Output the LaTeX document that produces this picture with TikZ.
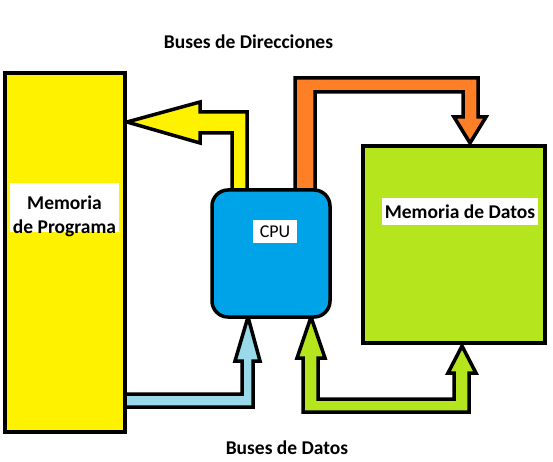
\documentclass[tikz,border=0pt]{standalone}
\usepackage{fontspec}
\setmainfont{Carlito}
\definecolor{pyellow}{HTML}{FFF200}
\definecolor{porange}{HTML}{FF7F27}
\definecolor{pblue}{HTML}{00A2E8}
\definecolor{plblue}{HTML}{99D9EA}
\definecolor{pgreen}{HTML}{B5E61D}
\begin{document}
\begin{tikzpicture}[x=1pt,y=-1pt,
  outl/.style={draw=black,line width=3.5pt,line join=miter,miter limit=20},
  lbl/.style={fill=white,inner sep=0pt,align=center,font=\fontsize{19.5}{24}\selectfont\bfseries},
  title/.style={inner sep=0pt,anchor=base,font=\fontsize{19.5}{22}\selectfont\bfseries}]
\useasboundingbox[fill=white] (0,0) rectangle (553,462);
% block arrows (behind boxes)
\filldraw[outl,fill=pyellow] (232,192) -- (232,133) -- (200,133) -- (200,143) -- (127,122)
  -- (200,102) -- (200,112) -- (247,112) -- (247,192);
\filldraw[outl,fill=porange] (295,192) -- (295,78) -- (478,78) -- (478,117) -- (486,117)
  -- (470,143) -- (454,117) -- (463,117) -- (463,92) -- (315,92) -- (315,192);
\filldraw[outl,fill=plblue] (123,394) -- (242,394) -- (242,361) -- (235,361) -- (248,317)
  -- (260,361) -- (253,361) -- (253,407) -- (123,407);
\filldraw[outl,fill=pgreen] (311,317) -- (325,358) -- (318,358) -- (318,399) -- (454,399)
  -- (454,373) -- (448,373) -- (462,346) -- (476,373) -- (469,373) -- (469,412)
  -- (303,412) -- (303,358) -- (297,358) -- cycle;
% boxes
\node[outl,fill=pyellow,minimum width=120pt,minimum height=359pt,inner sep=0pt] (pm) at (65,252.5) {};
\node[outl,fill=pblue,rounded corners=16pt,minimum width=118pt,minimum height=127pt,inner sep=0pt] (cpu) at (271,253.5) {};
\node[outl,fill=pgreen,minimum width=182pt,minimum height=197pt,inner sep=0pt] (dm) at (454,244.5) {};
% labels
\node[lbl,minimum width=109pt,minimum height=49pt,text depth=0pt] (pml) at (64.5,207.5) {\raisebox{-2pt}{\parbox{109pt}{\centering Memoria\\de Programa}}};
\node[lbl,minimum width=156pt,minimum height=27pt] (dml) at (460,211.5) {Memoria de Datos};
\node[lbl,font=\fontsize{18}{22}\selectfont,minimum width=44pt,minimum height=23pt] (cpul) at (275,231.5) {CPU};
\node[title] (bdir) at (248.5,49) {Buses de Direcciones};
\node[title] (bdat) at (287,454) {Buses de Datos};
\end{tikzpicture}
\end{document}
